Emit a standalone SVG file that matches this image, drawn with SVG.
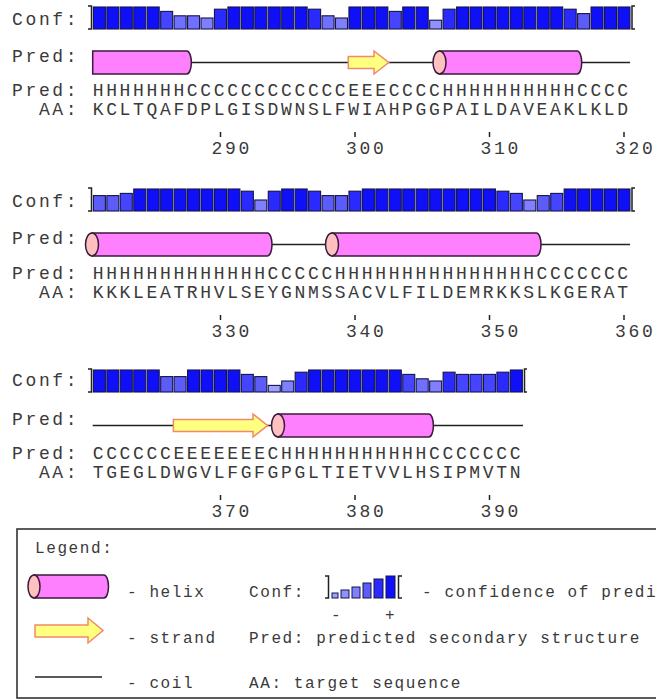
<svg xmlns="http://www.w3.org/2000/svg" xmlns:xlink="http://www.w3.org/1999/xlink" width="656" height="700" viewBox="0 0 656 700">
<style>
.t{font-family:"Liberation Mono","DejaVu Sans Mono",monospace;font-size:18px;letter-spacing:2.65px;fill:#3a3a3a}
.l{font-size:16px;letter-spacing:1.6px}
.c9{fill:#1010f8}.c8{fill:#2a2aff}.c7{fill:#4545ff}.c6{fill:#5c5cf8}.c5{fill:#7070ff}.c4{fill:#8080ff}.c3{fill:#9090ff}.c2{fill:#a0a0ff}
.hx{fill:#ff80ff;stroke:#3a1a3a;stroke-width:1.5}
.cap{fill:#ffc0c0;stroke:#3a1a3a;stroke-width:1.5}
.st{fill:#ffff80;stroke:#f08a6a;stroke-width:1.5}
.ln{stroke:#222;stroke-width:1.5;fill:none}
</style>
<defs>
<rect id="b9" class="c9" y="7" width="12" height="22" stroke="#15154a" stroke-width="1.1"/>
<rect id="b8" class="c8" y="9.2" width="12" height="19.8" stroke="#15154a" stroke-width="1.1"/>
<rect id="b7" class="c7" y="11.4" width="12" height="17.6" stroke="#15154a" stroke-width="1.1"/>
<rect id="b6" class="c6" y="13.6" width="12" height="15.4" stroke="#15154a" stroke-width="1.1"/>
<rect id="b5" class="c5" y="15.8" width="12" height="13.2" stroke="#15154a" stroke-width="1.1"/>
<rect id="b4" class="c4" y="18" width="12" height="11" stroke="#15154a" stroke-width="1.1"/>
<rect id="b3" class="c3" y="20.2" width="12" height="8.8" stroke="#15154a" stroke-width="1.1"/>
<rect id="b2" class="c2" y="22.4" width="12" height="6.6" stroke="#15154a" stroke-width="1.1"/>
</defs>
<rect width="656" height="700" fill="#fff"/>

<g id="row1">
<text class="t" x="12" y="25">Conf:</text>
<path class="ln" d="M88,6 H91.5 V29 H88"/>
<g id="conf1">
<use href="#b9" x="93.4"/><use href="#b9" x="106.85"/><use href="#b9" x="120.3"/><use href="#b9" x="133.75"/><use href="#b9" x="147.2"/>
<use href="#b7" x="160.65"/><use href="#b5" x="174.1"/><use href="#b5" x="187.55"/><use href="#b4" x="201"/><use href="#b8" x="214.45"/>
<use href="#b9" x="227.9"/><use href="#b9" x="241.35"/><use href="#b9" x="254.8"/><use href="#b9" x="268.25"/><use href="#b9" x="281.7"/>
<use href="#b9" x="295.15"/><use href="#b8" x="308.6"/><use href="#b5" x="322.05"/><use href="#b4" x="335.5"/><use href="#b9" x="348.95"/>
<use href="#b9" x="362.4"/><use href="#b9" x="375.85"/><use href="#b7" x="389.3"/><use href="#b9" x="402.75"/><use href="#b9" x="416.2"/>
<use href="#b3" x="429.65"/><use href="#b8" x="443.1"/><use href="#b9" x="456.55"/><use href="#b9" x="470"/><use href="#b9" x="483.45"/>
<use href="#b9" x="496.9"/><use href="#b9" x="510.35"/><use href="#b9" x="523.8"/><use href="#b9" x="537.25"/><use href="#b9" x="550.7"/>
<use href="#b8" x="564.15"/><use href="#b6" x="577.6"/><use href="#b9" x="591.05"/><use href="#b9" x="604.5"/><use href="#b9" x="617.95"/>
</g>
<path class="ln" d="M635,6 H632 V29 H635"/>
<text class="t" x="12" y="62">Pred:</text>
<line class="ln" x1="92.7" y1="62.5" x2="630" y2="62.5"/>
<path class="hx" d="M92.7,51 H186.85 A4.5,11.5 0 0 1 186.85,74 H92.7 Z"/>
<path class="st" d="M348.3,56.5 H374 V51 L388.7,62.5 L374,74 V68.5 H348.3 Z"/>
<path class="hx" d="M439.5,51 H577.2 A4.5,11.5 0 0 1 577.2,74 H439.5 Z"/>
<ellipse class="cap" cx="439.5" cy="62.5" rx="6.5" ry="11.5"/>
<text class="t" x="12" y="96">Pred: HHHHHHHCCCCCCCCCCCCEEECCCCHHHHHHHHHHCCCC</text>
<text class="t" x="38.9" y="115">AA: KCLTQAFDPLGISDWNSLFWIAHPGGPAILDAVEAKLKLD</text>
<path class="ln" d="M220.5,132 V137 M355,132 V137 M489.5,132 V137 M624,132 V137"/>
<text class="t" x="211.5" y="154">290</text>
<text class="t" x="346" y="154">300</text>
<text class="t" x="480.5" y="154">310</text>
<text class="t" x="615" y="154">320</text>
</g>

<g id="row2">
<text class="t" x="12" y="207">Conf:</text>
<g transform="translate(0,182)">
<path class="ln" d="M88,6 H91.5 V29 H88"/>
<g id="conf2">
<use href="#b6" x="93.4"/><use href="#b6" x="106.85"/><use href="#b7" x="120.3"/><use href="#b9" x="133.75"/><use href="#b9" x="147.2"/>
<use href="#b9" x="160.65"/><use href="#b9" x="174.1"/><use href="#b9" x="187.55"/><use href="#b9" x="201"/><use href="#b9" x="214.45"/>
<use href="#b9" x="227.9"/><use href="#b8" x="241.35"/><use href="#b4" x="254.8"/><use href="#b8" x="268.25"/><use href="#b9" x="281.7"/>
<use href="#b9" x="295.15"/><use href="#b8" x="308.6"/><use href="#b6" x="322.05"/><use href="#b6" x="335.5"/><use href="#b8" x="348.95"/>
<use href="#b9" x="362.4"/><use href="#b9" x="375.85"/><use href="#b9" x="389.3"/><use href="#b9" x="402.75"/><use href="#b9" x="416.2"/>
<use href="#b9" x="429.65"/><use href="#b9" x="443.1"/><use href="#b9" x="456.55"/><use href="#b9" x="470"/><use href="#b9" x="483.45"/>
<use href="#b8" x="496.9"/><use href="#b7" x="510.35"/><use href="#b4" x="523.8"/><use href="#b6" x="537.25"/><use href="#b7" x="550.7"/>
<use href="#b9" x="564.15"/><use href="#b9" x="577.6"/><use href="#b9" x="591.05"/><use href="#b9" x="604.5"/><use href="#b9" x="617.95"/>
</g>
<path class="ln" d="M635,6 H632 V29 H635"/>
<line class="ln" x1="92.7" y1="62.5" x2="630" y2="62.5"/>
<path class="hx" d="M92,51 H267.5 A4.5,11.5 0 0 1 267.5,74 H92 Z"/>
<ellipse class="cap" cx="92" cy="62.5" rx="6.5" ry="11.5"/>
<path class="hx" d="M332,51 H536.5 A4.5,11.5 0 0 1 536.5,74 H332 Z"/>
<ellipse class="cap" cx="332" cy="62.5" rx="6.5" ry="11.5"/>
</g>
<text class="t" x="12" y="244">Pred:</text>
<text class="t" x="12" y="279">Pred: HHHHHHHHHHHHHCCCCCHHHHHHHHHHHHHHHCCCCCCC</text>
<text class="t" x="38.9" y="298">AA: KKKLEATRHVLSEYGNMSSACVLFILDEMRKKSLKGERAT</text>
<path class="ln" d="M220.5,315 V320 M355,315 V320 M489.5,315 V320 M624,315 V320"/>
<text class="t" x="211.5" y="337">330</text>
<text class="t" x="346" y="337">340</text>
<text class="t" x="480.5" y="337">350</text>
<text class="t" x="615" y="337">360</text>
</g>

<g id="row3">
<text class="t" x="12" y="386">Conf:</text>
<g transform="translate(0,363)">
<path class="ln" d="M88,6 H91.5 V29 H88"/>
<g id="conf3">
<use href="#b9" x="93.4"/><use href="#b9" x="106.85"/><use href="#b9" x="120.3"/><use href="#b9" x="133.75"/><use href="#b9" x="147.2"/>
<use href="#b6" x="160.65"/><use href="#b6" x="174.1"/><use href="#b9" x="187.55"/><use href="#b9" x="201"/><use href="#b9" x="214.45"/>
<use href="#b9" x="227.9"/><use href="#b7" x="241.35"/><use href="#b6" x="254.8"/><use href="#b2" x="268.25"/><use href="#b4" x="281.7"/>
<use href="#b8" x="295.15"/><use href="#b9" x="308.6"/><use href="#b9" x="322.05"/><use href="#b9" x="335.5"/><use href="#b9" x="348.95"/>
<use href="#b9" x="362.4"/><use href="#b9" x="375.85"/><use href="#b9" x="389.3"/><use href="#b7" x="402.75"/><use href="#b5" x="416.2"/>
<use href="#b4" x="429.65"/><use href="#b8" x="443.1"/><use href="#b7" x="456.55"/><use href="#b7" x="470"/><use href="#b7" x="483.45"/>
<use href="#b8" x="496.9"/><use href="#b9" x="510.35"/>
</g>
<path class="ln" d="M527,6 H524.5 V29 H527"/>
<line class="ln" x1="92.7" y1="62.5" x2="523" y2="62.5"/>
<path class="st" d="M173.4,56.5 H253 V51 L267.5,62.5 L253,74 V68.5 H173.4 Z"/>
<path class="hx" d="M278,51 H428.9 A4.5,11.5 0 0 1 428.9,74 H278 Z"/>
<ellipse class="cap" cx="278" cy="62.5" rx="6.5" ry="11.5"/>
</g>
<text class="t" x="12" y="425">Pred:</text>
<text class="t" x="12" y="459">Pred: CCCCCCEEEEEEECHHHHHHHHHHHCCCCCCC</text>
<text class="t" x="38.9" y="478">AA: TGEGLDWGVLFGFGPGLTIETVVLHSIPMVTN</text>
<path class="ln" d="M220.5,495 V500 M355,495 V500 M489.5,495 V500"/>
<text class="t" x="211.5" y="517">370</text>
<text class="t" x="346" y="517">380</text>
<text class="t" x="480.5" y="517">390</text>
</g>

<g id="legend">
<rect x="17" y="529" width="700" height="169" fill="none" stroke="#333" stroke-width="1.6"/>
<text class="t l" x="35" y="553">Legend:</text>
<path class="hx" d="M34,575 H104 A4.5,11.5 0 0 1 104,598 H34 Z"/>
<ellipse class="cap" cx="34" cy="586.5" rx="6" ry="11.5"/>
<text class="t l" x="127" y="597">- helix</text>
<text class="t l" x="249" y="597">Conf:</text>
<path class="ln" d="M325,576 H328.5 V598 H325"/>
<rect class="c2" x="332" y="593" width="6" height="5" stroke="#15154a" stroke-width="1"/>
<rect class="c3" x="341" y="590" width="8" height="8" stroke="#15154a" stroke-width="1"/>
<rect class="c4" x="352" y="587" width="8" height="11" stroke="#15154a" stroke-width="1"/>
<rect class="c6" x="363" y="583" width="8" height="15" stroke="#15154a" stroke-width="1"/>
<rect class="c8" x="374" y="579" width="9" height="19" stroke="#15154a" stroke-width="1"/>
<rect class="c9" x="386" y="576" width="9" height="22" stroke="#15154a" stroke-width="1"/>
<path class="ln" d="M402,576 H398.5 V598 H402"/>
<text class="t l" x="422" y="597">- confidence of predi</text>
<text class="t l" x="331" y="620">-</text>
<text class="t l" x="385" y="620">+</text>
<path class="st" d="M35,625 H88 V618 L103,630.5 L88,643 V637 H35 Z"/>
<text class="t l" x="127" y="643">- strand</text>
<text class="t l" x="249" y="643">Pred: predicted secondary structure</text>
<line class="ln" x1="35" y1="677" x2="102" y2="677"/>
<text class="t l" x="127" y="688">- coil</text>
<text class="t l" x="249" y="688">AA: target sequence</text>
</g>
</svg>
